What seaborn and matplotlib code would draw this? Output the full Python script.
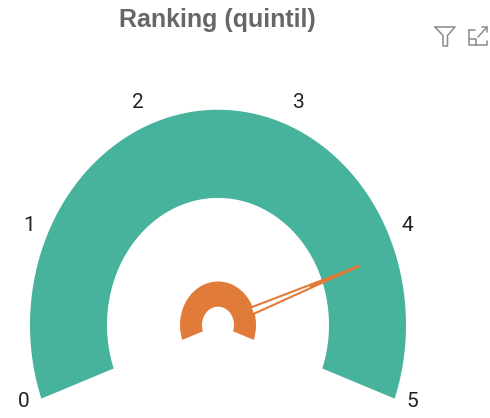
import numpy as np
import matplotlib
matplotlib.use("Agg")
import matplotlib.pyplot as plt
import seaborn as sns

# Datos del gauge
titulo = "Ranking (quintil)"
ticks = [0, 1, 2, 3, 4, 5]
valor = 4.09
valor_min = 0
valor_max = 5

sns.set_theme(style="white")
plt.rcParams["font.family"] = ["Roboto", "DejaVu Sans"]

verde = "#47B39D"
naranja = "#E07B39"
gris = "#666666"

# El gauge va de 200 a -20 grados, un poco estirado en vertical
ang_ini = 200
ang_fin = -20
cx, cy = 218, 325
estira = 1.145


def angulo(v):
    return np.radians(ang_ini + (v - valor_min) / (valor_max - valor_min) * (ang_fin - ang_ini))


def punto(v, rx, ry=None):
    ry = rx * estira if ry is None else ry
    return cx + rx * np.cos(angulo(v)), cy - ry * np.sin(angulo(v))


def arco(r_ext, r_int, color):
    v = np.linspace(valor_min, valor_max, 200)
    x1, y1 = punto(v, r_ext)
    x2, y2 = punto(v[::-1], r_int)
    ax.fill(np.r_[x1, x2], np.r_[y1, y2], color=color, lw=0)


fig, ax = plt.subplots(figsize=(4.9, 4.18), dpi=100)
fig.subplots_adjust(0, 0, 1, 1)
ax.set_xlim(0, 490)
ax.set_ylim(418, 0)
ax.axis("off")

arco(188, 111, verde)
arco(38, 16, naranja)

# Aguja: contorno naranja con interior blanco
xt, yt = punto(valor, 150)
xb, yb = punto(valor, 36)
nx, ny = np.sin(angulo(valor)), np.cos(angulo(valor))
ax.fill([xt, xb + 3.5 * nx, xb - 3.5 * nx], [yt, yb + 3.5 * ny, yb - 3.5 * ny],
        facecolor="white", edgecolor=naranja, lw=1.5, joinstyle="round", zorder=3)
ax.plot([xb + 0.55 * (xt - xb), xt], [yb + 0.55 * (yt - yb), yt],
        color=naranja, lw=2, zorder=4)

# Etiquetas de la escala
for t in ticks:
    x, y = punto(t, 207, 236)
    if t in (2, 3):
        x += -3 if t == 2 else 3
    ax.text(x, y - 4, str(t), ha="center", va="center", fontsize=15, color="#222222")

ax.text(217, 20, titulo, ha="center", va="center", fontsize=18, fontweight="bold",
        family="Liberation Sans", color=gris)

# Iconos de arriba a la derecha
icono = {"color": "#8a8a8a", "lw": 1.1}
ax.plot([435, 455, 447.5, 447.5, 443, 443, 435], [27, 27, 35.5, 46, 46, 35.5, 27], **icono)
ax.plot([469, 469, 487, 487], [30, 45, 45, 41], **icono)
ax.plot([469, 476, 476], [39, 39, 45], **icono)
ax.plot([469, 475], [30, 30], **icono)
ax.plot([478, 487], [37, 27], **icono)
ax.plot([482, 487, 487], [27, 27, 32], **icono)

plt.savefig("out.png", dpi=100)
